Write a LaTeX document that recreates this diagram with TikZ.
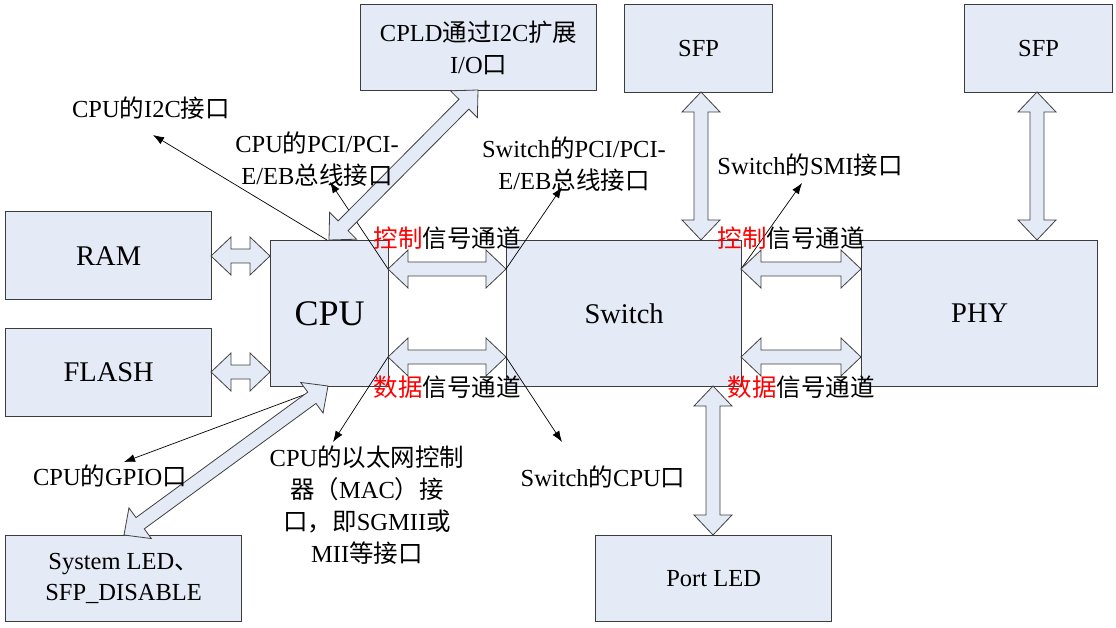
\documentclass[tikz,border=0pt]{standalone}
\usepackage{fontspec}
\setmainfont{Liberation Serif}
\newfontfamily\cjk{Noto Sans CJK SC}
\usetikzlibrary{calc,arrows.meta}
\definecolor{boxfill}{RGB}{228,234,246}
\definecolor{boxline}{RGB}{60,60,60}
\newcommand\zh[1]{{\cjk #1}}
\newcommand\barrow[2]{%
  \filldraw[barr] (#1)
  -- ($(#1)!20pt!(#2)!19pt!90:(#2)$) -- ($(#1)!20pt!(#2)!7pt!90:(#2)$)
  -- ($(#2)!20pt!(#1)!7pt!-90:(#1)$) -- ($(#2)!20pt!(#1)!19pt!-90:(#1)$)
  -- (#2)
  -- ($(#2)!20pt!(#1)!19pt!90:(#1)$) -- ($(#2)!20pt!(#1)!7pt!90:(#1)$)
  -- ($(#1)!20pt!(#2)!7pt!-90:(#2)$) -- ($(#1)!20pt!(#2)!19pt!-90:(#2)$)
  -- cycle;}
\tikzset{
  box/.style={draw=boxline, line width=1.3pt, fill=boxfill, anchor=north west,
    inner sep=0pt, align=center, font=\fontsize{28.5}{32}\selectfont},
  lbl/.style={inner sep=0pt, align=center, font=\fontsize{24.5}{32}\selectfont},
  thinarr/.style={draw=black, line width=0.7pt, -{Latex[length=11pt,width=8pt]}},
  barr/.style={draw=black!75, line width=0.8pt, fill=boxfill, line join=miter},
}
\begin{document}
\begin{tikzpicture}[x=1pt,y=-1pt]
\useasboundingbox (0,0) rectangle (1116,628);
% boxes
\node[box, minimum width=236pt, minimum height=86pt, font=\fontsize{24.5}{32}\selectfont] (cpld) at (360,4) {CPLD\zh{通过}I2C\zh{扩展}\\I/O\zh{口}};
\node[box, minimum width=148pt, minimum height=88pt, font=\fontsize{24.5}{32}\selectfont] (sfpa) at (624,4) {SFP};
\node[box, minimum width=148pt, minimum height=88pt, font=\fontsize{24.5}{32}\selectfont] (sfpb) at (964,4) {SFP};
\node[box, minimum width=206pt, minimum height=88pt] (ram) at (5,211) {RAM};
\node[box, minimum width=206pt, minimum height=88pt] (flash) at (5,328) {FLASH};
\node[box, minimum width=118pt, minimum height=146pt, font=\fontsize{36}{40}\selectfont] (cpu) at (270,240) {CPU};
\node[box, minimum width=235pt, minimum height=146pt] (switch) at (506,240) {Switch};
\node[box, minimum width=236pt, minimum height=146pt] (phy) at (861,240) {PHY};
\node[box, minimum width=236pt, minimum height=86pt, font=\fontsize{24.5}{31}\selectfont] (sysled) at (5,535) {System LED\zh{、}\\SFP\_DISABLE};
\node[box, minimum width=236pt, minimum height=86pt, font=\fontsize{24.5}{32}\selectfont] (portled) at (595,535) {Port LED};

% coordinates for connectors
\coordinate (ramE) at (211,256);   \coordinate (cpuWa) at (270,256);
\coordinate (flashE) at (211,372); \coordinate (cpuWb) at (270,372);
\coordinate (cpuEc) at (388,269);  \coordinate (swWc) at (506,269);
\coordinate (cpuEd) at (388,357);  \coordinate (swWd) at (506,357);
\coordinate (swEc) at (741,269);   \coordinate (phyWc) at (861,269);
\coordinate (swEd) at (741,357);   \coordinate (phyWd) at (861,357);
\coordinate (sfpaS) at (701,92);   \coordinate (swN) at (701,240);
\coordinate (sfpbS) at (1037,92);  \coordinate (phyN) at (1037,240);
\coordinate (swS) at (713,386);    \coordinate (portN) at (713,535);
\coordinate (cpldS) at (478,90);   \coordinate (cpuN) at (329,240);
\coordinate (cpuS) at (328,386);   \coordinate (sysN) at (124,535);
\coordinate (cpuNi) at (327,240);  \coordinate (i2cT) at (153,135);
\coordinate (pciT) at (330,182);   \coordinate (swpciT) at (562,187);
\coordinate (smiT) at (802,183);   \coordinate (cpuSg) at (325,387);
\coordinate (gpioT) at (124,462);  \coordinate (macT) at (333,442);
\coordinate (swcpuT) at (562,442);

% thin arrows
\draw[thinarr] (cpuNi) -- (i2cT);
\draw[thinarr] (cpuEc) -- (pciT);
\draw[thinarr] (swWc) -- (swpciT);
\draw[thinarr] (swEc) -- (smiT);
\draw[thinarr] (cpuSg) -- (gpioT);
\draw[thinarr] (cpuEd) -- (macT);
\draw[thinarr] (swWd) -- (swcpuT);

% block arrows
\barrow{ramE}{cpuWa}
\barrow{flashE}{cpuWb}
\barrow{cpuEc}{swWc}
\barrow{cpuEd}{swWd}
\barrow{swEc}{phyWc}
\barrow{swEd}{phyWd}
\barrow{sfpaS}{swN}
\barrow{sfpbS}{phyN}
\barrow{swS}{portN}
\barrow{cpldS}{cpuN}
\barrow{cpuS}{sysN}

% labels
\node[lbl] (li2c) at (151,108) {CPU\zh{的}I2C\zh{接口}};
\node[lbl] (lpci) at (317,159) {CPU\zh{的}PCI/PCI-\\E/EB\zh{总线接口}};
\node[lbl] (lswpci) at (574,164) {Switch\zh{的}PCI/PCI-\\E/EB\zh{总线接口}};
\node[lbl] (lsmi) at (810,165) {Switch\zh{的}SMI\zh{接口}};
\node[lbl] (lgpio) at (110,476) {CPU\zh{的}GPIO\zh{口}};
\node[lbl] (lmac) at (367,505) {CPU\zh{的以太网控制}\\\zh{器（}MAC\zh{）接}\\\zh{口，即}SGMII\zh{或}\\MII\zh{等接口}};
\node[lbl] (lswcpu) at (603,477) {Switch\zh{的}CPU\zh{口}};
\node[lbl] (lctla) at (447,238) {\zh{\textcolor{red}{控制}信号通道}};
\node[lbl] (lctlb) at (791,238) {\zh{\textcolor{red}{控制}信号通道}};
\node[lbl] (ldata) at (447,387) {\zh{\textcolor{red}{数据}信号通道}};
\node[lbl] (ldatb) at (801,387) {\zh{\textcolor{red}{数据}信号通道}};
\end{tikzpicture}
\end{document}
